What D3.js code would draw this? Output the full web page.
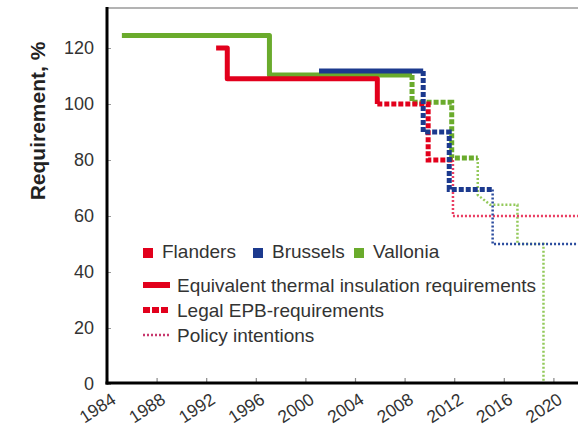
<!DOCTYPE html>
<html><head><meta charset="utf-8">
<script src="https://cdn.jsdelivr.net/npm/d3@7"></script>
<style>body{margin:0;background:#fff}svg{display:block}text{font-family:"Liberation Sans",Arial,sans-serif}</style>
</head><body><svg id="c" width="578" height="429"></svg>
<script>
// ---- data ----
const xTicks = [1984,1988,1992,1996,2000,2004,2008,2012,2016,2020];
const yTicks = [0,20,40,60,80,100,120];
const regions = ["Flanders","Brussels","Vallonia"];
const lineTypes = ["Equivalent thermal insulation requirements","Legal EPB-requirements","Policy intentions"];
const yTitle = "Requirement, %";

const flandersSolid  = [[1992.8,120],[1993.7,120],[1993.7,109],[2005.8,109],[2005.8,100]];
const flandersEPB    = [[2005.8,100],[2009.9,100],[2009.9,80],[2011.9,80]];
const flandersPolicy = [[2011.9,80],[2011.9,60],[2026,60]];

const brusselsSolid  = [[2001.1,111.8],[2009.5,111.8]];
const brusselsEPB    = [[2009.5,111.8],[2009.5,90],[2011.6,90],[2011.6,69.5],[2015.1,69.5]];
const brusselsPolicy = [[2015.1,69.5],[2015.1,50],[2026,50]];

const valloniaSolid  = [[1985.2,124.5],[1997.1,124.5],[1997.1,110.4],[2008.6,110.4]];
const valloniaEPB    = [[2008.6,110.4],[2008.6,100.6],[2011.8,100.6],[2011.8,80.7],[2013.9,80.7]];
const valloniaPolicy = [[2013.9,80.7],[2013.9,67.5],[2014.9,64],[2017.1,64],[2017.1,50],[2019.2,50],[2019.2,0],[2026,0]];

// ---- styles ----
const colors = {Flanders:"#e2001c", Brussels:"#1c3a8e", Vallonia:"#6aab2c"};
const policyColors = {Flanders:"#ea3d62", Brussels:"#2b4c9e", Vallonia:"#93c95a"};

const svg = d3.select("#c");
const L = 107, T = 8, B = 384, W = 578;
const x = d3.scaleLinear().domain([1984,2020]).range([L, L + 36*12.4]);
const y = d3.scaleLinear().domain([0,120]).range([B, 48]);

svg.append("defs").append("clipPath").attr("id","pc")
  .append("rect").attr("x",L).attr("y",T).attr("width",W-L).attr("height",B-T);

// top border
svg.append("line").attr("x1",L).attr("x2",W).attr("y1",T).attr("y2",T)
  .attr("stroke","#9a9a9a").attr("stroke-width",1.5);

// y axis ticks + labels
const yAxis = d3.axisLeft(y).tickValues(yTicks).tickSize(-4).tickPadding(13).tickFormat(d3.format("d"));
const ya = svg.append("g").attr("transform",`translate(${L},0)`).call(yAxis);
ya.select(".domain").remove();
ya.selectAll(".tick line").attr("stroke","#999").attr("stroke-width",1);
ya.selectAll(".tick text").attr("font-size",18).attr("fill","#333")
  .attr("font-family","Liberation Sans, Arial, sans-serif");

// x axis ticks + labels
const xAxis = d3.axisBottom(x).tickValues(xTicks).tickSize(-5).tickFormat(d3.format("d"));
const xa = svg.append("g").attr("transform",`translate(0,${B-1})`).call(xAxis);
xa.select(".domain").remove();
xa.selectAll(".tick line").attr("stroke","#888").attr("stroke-width",1.2);
xa.selectAll(".tick text")
  .attr("font-size",17.5).attr("fill","#333").attr("font-family","Liberation Sans, Arial, sans-serif")
  .attr("text-anchor","middle").attr("dominant-baseline","central")
  .attr("y",0).attr("dy",null)
  .attr("transform","translate(-10,25) rotate(-33)");

// lines
const line = d3.line().x(d=>x(d[0])).y(d=>y(d[1]));
const g = svg.append("g").attr("clip-path","url(#pc)");
const series = [
  ["Vallonia", valloniaSolid, valloniaEPB, valloniaPolicy],
  ["Flanders", flandersSolid, flandersEPB, flandersPolicy],
  ["Brussels", brusselsSolid, brusselsEPB, brusselsPolicy]
];
series.forEach(([name, s, e, p]) => {
  g.append("path").attr("d",line(p)).attr("fill","none")
    .attr("stroke",policyColors[name]).attr("stroke-width",2.5).attr("stroke-dasharray","2,2");
});
series.forEach(([name, s, e, p]) => {
  g.append("path").attr("d",line(e)).attr("fill","none")
    .attr("stroke",colors[name]).attr("stroke-width",5).attr("stroke-dasharray","5,2");
  g.append("path").attr("d",line(s)).attr("fill","none")
    .attr("stroke",colors[name]).attr("stroke-width",5).attr("stroke-linejoin","round");
});

// axis lines
svg.append("line").attr("x1",L).attr("x2",L).attr("y1",T-1).attr("y2",B+0.5)
  .attr("stroke","#000").attr("stroke-width",3);
svg.append("line").attr("x1",L-1.5).attr("x2",W).attr("y1",B-1).attr("y2",B-1)
  .attr("stroke","#000").attr("stroke-width",3);

// y title
svg.append("text").attr("transform","translate(37,121) rotate(-90)")
  .attr("text-anchor","middle").attr("dominant-baseline","central")
  .attr("font-size",21).attr("font-weight","bold").attr("fill","#222").text(yTitle);

// legend: regions
const regX = [143,253,354];
regions.forEach((r,i) => {
  svg.append("rect").attr("x",regX[i]).attr("y",248).attr("width",10).attr("height",10).attr("fill",colors[r]);
  svg.append("text").attr("x",regX[i]+19).attr("y",258).attr("font-size",19).attr("fill","#333").text(r);
});
// legend: line types
const ltY = [285,310,335];
const ltStyle = [
  {w:6, dash:null, c:colors.Flanders},
  {w:6, dash:"7,2", c:colors.Flanders},
  {w:2.5, dash:"2,2", c:"#c8386e"}
];
lineTypes.forEach((t,i) => {
  const st = ltStyle[i];
  const ln = svg.append("line").attr("x1",143).attr("x2",170).attr("y1",ltY[i]).attr("y2",ltY[i])
    .attr("stroke",st.c).attr("stroke-width",st.w);
  if (st.dash) ln.attr("stroke-dasharray",st.dash);
  svg.append("text").attr("x",177).attr("y",ltY[i]+7).attr("font-size",19).attr("fill","#333").text(t);
});
</script></body></html>
